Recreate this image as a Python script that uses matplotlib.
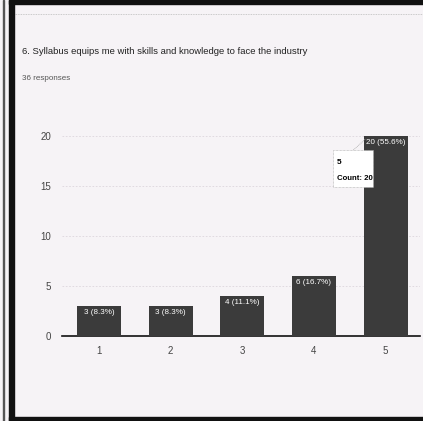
import matplotlib
matplotlib.use("Agg")
import matplotlib.pyplot as plt
from matplotlib.patches import Rectangle, FancyBboxPatch

categories = ["1", "2", "3", "4", "5"]
counts = [3, 3, 4, 6, 20]
bar_labels = ["3 (8.3%)", "3 (8.3%)", "4 (11.1%)", "6 (16.7%)", "20 (55.6%)"]
yticks = [0, 5, 10, 15, 20]
title = "6. Syllabus equips me with skills and knowledge to face the industry"
subtitle = "36 responses"
tooltip_cat = "5"
tooltip_count = "Count: 20"

fam = ["Liberation Sans", "DejaVu Sans"]

W, H = 423, 421
fig = plt.figure(figsize=(W / 100, H / 100), dpi=100)
bg = "#f6f3f6"
fig.patch.set_facecolor(bg)

# frame
fig.patches.append(Rectangle((9 / W, 0), 4.5 / W, 1, transform=fig.transFigure, color="#111111", zorder=5))
fig.patches.append(Rectangle((2.5 / W, 0), 1.5 / W, 1, transform=fig.transFigure, color="#555555", zorder=5))
fig.patches.append(Rectangle((9 / W, 0), 1 - 9 / W, 4 / H, transform=fig.transFigure, color="#111111", zorder=5))
fig.patches.append(Rectangle((9 / W, 1 - 4 / H), 1 - 9 / W, 4 / H, transform=fig.transFigure, color="#111111", zorder=5))
fig.lines.append(plt.Line2D([14 / W, 1], [1 - 14 / H, 1 - 14 / H], transform=fig.transFigure,
                            color="#bbbbbb", lw=0.6, ls=(0, (1, 1))))

x0, x1 = 62, 420
y0, y1 = 336, 116
ax = fig.add_axes([x0 / W, (H - y0) / H, (x1 - x0) / W, (y0 - y1) / H])
ax.set_facecolor(bg)
xs = list(range(1, len(categories) + 1))
ax.bar(xs, counts, width=0.615, color="#3b3b3b", zorder=3)
ax.set_xlim(0.483, 5.48)
ax.set_ylim(0, 22)
for s in ["top", "right", "left"]:
    ax.spines[s].set_visible(False)
ax.spines["bottom"].set_color("#111111")
ax.spines["bottom"].set_linewidth(1.2)
ax.set_yticks(yticks)
ax.set_yticklabels([str(t) for t in yticks], fontsize=7, color="#444444", family=fam)
ax.set_xticks(xs)
ax.set_xticklabels(categories, fontsize=7, color="#444444", family=fam)
ax.tick_params(axis="both", length=0)
ax.tick_params(axis="y", pad=8)
ax.tick_params(axis="x", pad=7)
ax.grid(axis="y", color="#dcd6dc", lw=0.6, ls=(0, (2, 2)), zorder=0)

for x, c, lab in zip(xs, counts, bar_labels):
    ax.text(x, c - 0.35, lab, ha="center", va="top", color="white", fontsize=5.8,
            family=fam, zorder=4)

# tooltip
ax.add_patch(FancyBboxPatch((4.26, 14.9), 0.56, 3.7, boxstyle="square,pad=0",
                            fc="white", ec="#aaaaaa", lw=0.5, ls=(0, (1, 1)), zorder=6))
ax.plot([4.55, 4.72], [18.6, 19.7], color="#aaaaaa", lw=0.6, ls=(0, (1, 1)), zorder=6)
ax.text(4.32, 17.3, tooltip_cat, fontsize=6, fontweight="bold", va="center", zorder=7, family=fam)
ax.text(4.32, 15.8, tooltip_count, fontsize=5.6, fontweight="bold", va="center", zorder=7,
        family=fam)

fig.text(22 / W, 1 - 52 / H, title, fontsize=6.8, color="#222222", va="center", family=fam)
fig.text(22 / W, 1 - 78 / H, subtitle, fontsize=5.8, color="#555555", va="center", family=fam)

fig.savefig("out.png", dpi=100, facecolor=bg)
